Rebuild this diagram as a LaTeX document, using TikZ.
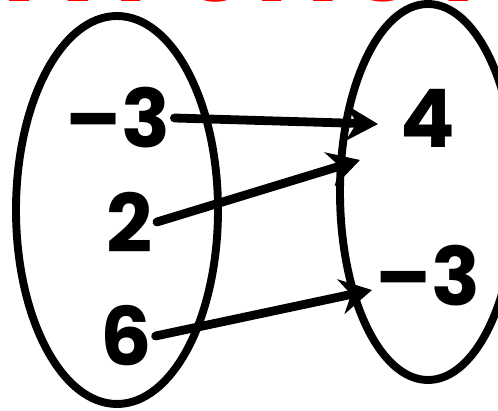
\documentclass[tikz,border=0pt]{standalone}
\usepackage{fontspec}
\setsansfont{Poppins}
\usepackage{tikz}
\usetikzlibrary{arrows.meta, positioning, calc}
\definecolor{notecolor}{RGB}{255, 0, 0}

\begin{document}
\begin{tikzpicture}[
    x=0.02cm, y=-0.02cm,
    setoval/.style={draw, line width=4.5pt},
    numlabel/.style={font=\sffamily\bfseries\fontsize{46}{50}\selectfont, inner sep=2pt},
    maparrow/.style={line width=5pt, line cap=round, -{Stealth[length=18pt, width=20pt]}}
]
\useasboundingbox (0,0) rectangle (498,411);
\clip (0,0) rectangle (498,411);

% heading, cut off at the top edge
\node[anchor=base, text=notecolor, font=\sffamily\bfseries\fontsize{64}{70}\selectfont] (head) at (290,2) {IS A FUNCTION};

% domain and range
\draw[setoval] (117,210) ellipse (101 and 194);
\draw[setoval] (428,192) ellipse (88 and 188);

\node[numlabel] (lx1) at (118,118) {–3};
\node[numlabel] (lx2) at (130,222) {2};
\node[numlabel] (lx3) at (126,336) {6};

\node[numlabel] (ry1) at (428,118) {4};
\node[numlabel] (ry2) at (428,276) {–3};

\coordinate (hit1) at (378,124);
\coordinate (hit2) at (360,160);
\coordinate (hit3) at (372,290);

\draw[maparrow] (lx1.east) -- (hit1);
\draw[maparrow] (lx2.east) -- (hit2);
\draw[maparrow] (lx3.east) -- (hit3);

\end{tikzpicture}
\end{document}
